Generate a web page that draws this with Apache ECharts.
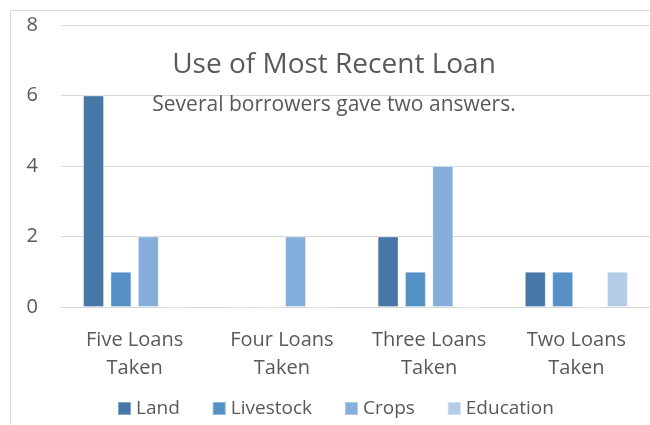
<!DOCTYPE html>
<html>
<head>
<meta charset="utf-8">
<script src="https://cdn.jsdelivr.net/npm/echarts@6/dist/echarts.min.js"></script>
<style>
  html, body { margin: 0; padding: 0; background: #fff; }
  #chart { width: 650px; height: 425px; }
</style>
</head>
<body>
<div id="chart"></div>
<script>
// chart data
var categories = ['Five Loans\nTaken', 'Four Loans\nTaken', 'Three Loans\nTaken', 'Two Loans\nTaken'];
var land = [6, 0, 2, 1];
var livestock = [1, 0, 1, 1];
var crops = [2, 2, 4, 0];
var education = [0, 0, 0, 1];
var yTicks = [0, 2, 4, 6, 8];

var font = 'Open Sans';
var textColor = '#595959';

function bar(name, data, color) {
    return {
        name: name,
        type: 'bar',
        data: data,
        barGap: '31%',
        barCategoryGap: '30%',
        itemStyle: { color: color, borderColor: 'rgba(255,255,255,0.35)', borderWidth: 1 }
    };
}

var myChart = echarts.init(document.getElementById('chart'));
myChart.setOption({
    animation: false,
    textStyle: { fontFamily: font, color: textColor },
    graphic: [{
        type: 'rect',
        shape: { x: 10.5, y: 10.5, width: 700, height: 500 },
        style: { fill: 'none', stroke: '#d9d9d9', lineWidth: 1 },
        silent: true
    }],
    title: {
        text: 'Use of Most Recent Loan',
        subtext: 'Several borrowers gave two answers.',
        left: 329,
        textAlign: 'center',
        top: 46,
        itemGap: 16,
        textStyle: { fontFamily: font, fontSize: 28, fontWeight: 'normal', color: textColor },
        subtextStyle: { fontFamily: font, fontSize: 21, color: textColor }
    },
    legend: {
        bottom: 2,
        left: 112,
        icon: 'rect',
        itemWidth: 13,
        itemHeight: 13,
        itemGap: 32,
        textStyle: { fontFamily: font, fontSize: 19, color: textColor },
        data: ['Land', 'Livestock', 'Crops', 'Education']
    },
    grid: { left: 61, right: -6, top: 25, bottom: 118, containLabel: false },
    xAxis: {
        type: 'category',
        data: categories,
        axisTick: { show: false },
        axisLine: { lineStyle: { color: '#d9d9d9' } },
        axisLabel: { fontFamily: font, fontSize: 20, color: textColor, lineHeight: 28, margin: 19, interval: 0 }
    },
    yAxis: {
        type: 'value',
        min: yTicks[0],
        max: yTicks[yTicks.length - 1],
        interval: 2,
        axisLine: { show: false },
        axisTick: { show: false },
        splitLine: { lineStyle: { color: '#d9d9d9' } },
        axisLabel: { fontFamily: font, fontSize: 20, color: textColor, margin: 23 }
    },
    series: [
        bar('Land', land, '#4677a6'),
        bar('Livestock', livestock, '#5591c7'),
        bar('Crops', crops, '#84aedb'),
        bar('Education', education, '#b5cce8')
    ]
});
</script>
</body>
</html>
